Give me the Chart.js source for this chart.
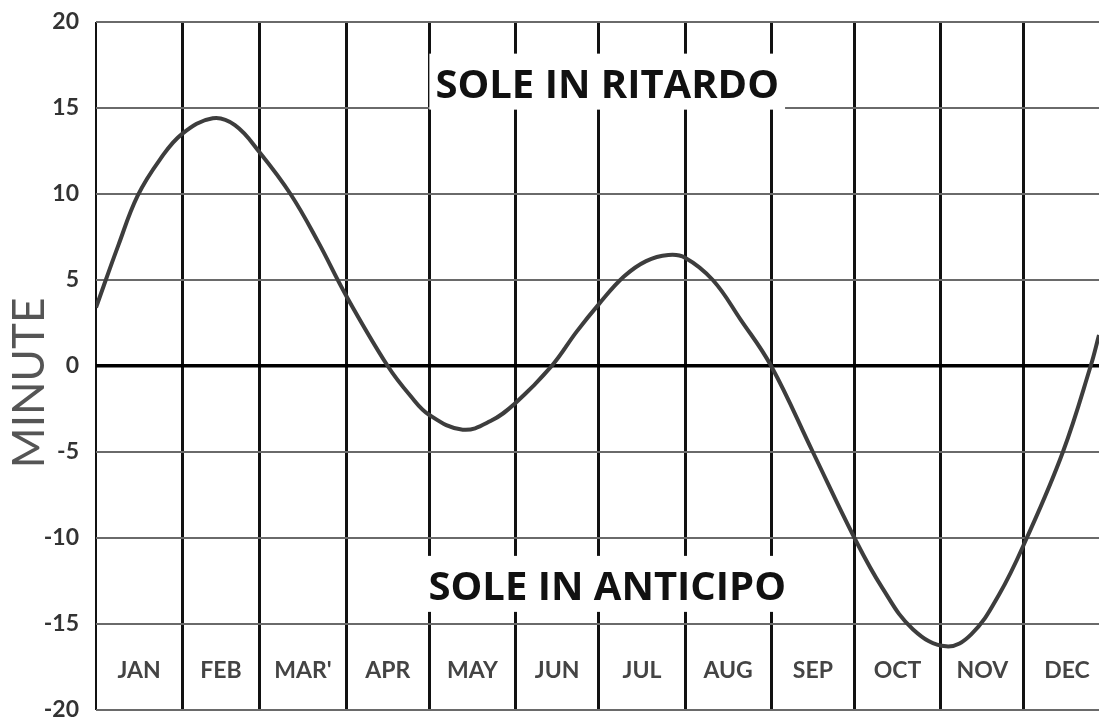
<!DOCTYPE html>
<html>
<head>
<meta charset="utf-8">
<script src="https://cdn.jsdelivr.net/npm/chart.js@4/dist/chart.umd.min.js"></script>
<style>
    html, body { margin: 0; padding: 0; background: #fff; }
    #wrap { width: 1099px; height: 720px; position: relative; }
</style>
</head>
<body>
<div id="wrap"><canvas id="eotChart"></canvas></div>
<script>
// day of year (0 = 1 Jan) and minutes
const days = [0, 8, 15, 23, 31, 42, 50, 59, 70, 80, 90, 105, 113, 120, 132, 142, 151, 164, 173, 181,
    190, 198, 206, 212, 222, 232, 243, 258, 273, 283, 294, 306, 315, 325, 335, 348, 358, 361];
const minutes = [3.4, 7.0, 9.9, 12.0, 13.5, 14.4, 14.0, 12.4, 10, 7.2, 4.1, 0, -1.7, -2.85, -3.7, -3.2, -2.15, 0, 2.0, 3.6,
    5.2, 6.1, 6.45, 6.3, 5, 2.7, 0, -5, -10, -12.9, -15.3, -16.3, -15.6, -13.3, -10, -5, 0, 1.8];

const monthNames = ["JAN", "FEB", "MAR'", "APR", "MAY", "JUN", "JUL", "AUG", "SEP", "OCT", "NOV", "DEC"];
const monthStarts = [0, 31, 59, 90, 120, 151, 181, 212, 243, 273, 304, 334];
const monthLengths = [31, 28, 31, 30, 31, 30, 31, 31, 30, 31, 30, 31];
const yTicks = [20, 15, 10, 5, 0, -5, -10, -15, -20];

const topText = "SOLE IN RITARDO";
const bottomText = "SOLE IN ANTICIPO";

const labelFont = "Lato, 'DejaVu Sans', sans-serif";

const overlayPlugin = {
    id: 'overlay',
    beforeDatasetsDraw(chart) {
        const ctx = chart.ctx;
        const x = chart.scales.x;
        const y = chart.scales.y;
        ctx.save();

        // banner texts with white boxes behind
        ctx.font = "bold 40px 'Open Sans', sans-serif";
        ctx.textAlign = 'center';
        ctx.textBaseline = 'middle';
        const cx = x.getPixelForValue(184);
        [[topText, 16.3], [bottomText, -12.9]].forEach(([txt, v]) => {
            const py = y.getPixelForValue(v);
            const w = ctx.measureText(txt).width;
            ctx.fillStyle = '#fff';
            ctx.fillRect(cx - w / 2 - 6, py - 32, w + 12, 56);
            ctx.fillStyle = '#111';
            ctx.fillText(txt, cx, py + 1);
        });

        // month names
        ctx.font = "bold 23px " + labelFont;
        ctx.fillStyle = '#444';
        const ly = y.getPixelForValue(-17.7);
        monthNames.forEach((m, i) => {
            ctx.fillText(m, x.getPixelForValue(monthStarts[i] + monthLengths[i] / 2), ly);
        });
        ctx.restore();
    }
};

const ctx = document.getElementById('eotChart').getContext('2d');
new Chart(ctx, {
    type: 'line',
    data: {
        datasets: [{
            data: days.map((d, i) => ({ x: d, y: minutes[i] })),
            borderColor: '#3d3d3d',
            borderWidth: 4,
            pointRadius: 0,
            fill: false,
            tension: 0.4
        }]
    },
    options: {
        responsive: true,
        maintainAspectRatio: false,
        animation: false,
        layout: { padding: { top: 22, right: 0, bottom: 10, left: 0 } },
        plugins: { legend: { display: false }, tooltip: { enabled: false } },
        scales: {
            x: {
                type: 'linear',
                min: 0,
                max: 361,
                afterBuildTicks: scale => { scale.ticks = monthStarts.map(v => ({ value: v })); },
                afterFit: scale => { scale.height = 0; },
                ticks: { display: false },
                border: { display: false },
                grid: {
                    color: '#111',
                    lineWidth: c => c.index === 0 ? 2 : 3,
                    drawTicks: false
                }
            },
            y: {
                min: -20,
                max: 20,
                afterBuildTicks: scale => { scale.ticks = yTicks.map(v => ({ value: v })); },
                afterFit: scale => {
                    scale.width = 96;
                    scale.paddingTop = 8;
                    scale.paddingBottom = 8;
                },
                border: { display: false },
                grid: {
                    color: c => c.tick && c.tick.value === 0 ? '#000' : '#6a6a6a',
                    lineWidth: c => c.tick && c.tick.value === 0 ? 3.5 : 2,
                    drawTicks: false
                },
                ticks: {
                    color: '#333',
                    padding: 17,
                    font: { family: labelFont, size: 23, weight: 'bold' }
                },
                title: {
                    display: true,
                    text: 'MINUTE   ',
                    color: '#555',
                    padding: { top: 3, bottom: 0 },
                    font: { family: labelFont, size: 44, weight: 'normal' }
                }
            }
        }
    },
    plugins: [overlayPlugin]
});
</script>
</body>
</html>
